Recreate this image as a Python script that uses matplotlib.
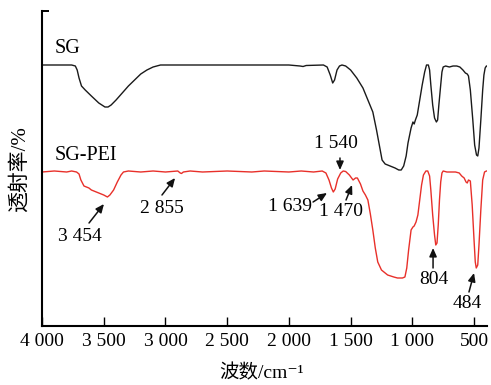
import matplotlib
matplotlib.use("Agg")
import matplotlib.pyplot as plt
import numpy as np

# ---- data (wavenumber cm^-1, relative transmittance, arbitrary offset units) ----
sg_wn = [4000, 3760, 3730, 3715, 3700, 3680, 3650, 3600, 3540, 3490, 3465, 3440, 3400,
         3350, 3300, 3250, 3200, 3150, 3100, 3040, 2500, 2000, 1910, 1885, 1860, 1720,
         1690, 1665, 1645, 1630, 1610, 1590, 1570, 1540, 1500, 1450, 1400, 1360, 1320,
         1290, 1260, 1245, 1220, 1180, 1140, 1110, 1090, 1070, 1050, 1035, 1010, 995,
         985, 975, 960, 940, 920, 900, 885, 870, 860, 850, 835, 820, 805, 795, 785, 770,
         760, 750, 730, 700, 670, 640, 615, 590, 570, 555, 545, 530, 510, 495, 480, 470,
         460, 445, 430, 420, 410, 400, 395]
sg_T = [261, 261, 260, 256, 248, 240, 236, 230, 223, 219, 219, 221, 226,
        233, 240, 246, 252, 256, 259, 261, 261, 261, 260, 259.5, 260.5, 261,
        259, 251, 243, 246, 256, 260, 261, 260, 256, 248, 238, 226, 214,
        196, 176, 166, 162, 160, 158, 156, 156, 160, 170, 183, 198, 204,
        202, 206, 211, 226, 241, 254, 261, 261, 256, 241, 221, 208, 204, 206, 221, 241,
        254, 259, 260, 259, 260, 260, 259, 256, 253, 252, 250, 236, 206, 181, 171, 170,
        178, 206, 236, 251, 258, 260, 260]

pei_wn = [4000, 3900, 3800, 3760, 3720, 3700, 3685, 3660, 3640, 3620, 3600, 3580, 3560,
          3540, 3520, 3500, 3470, 3450, 3420, 3390, 3360, 3340, 3300, 3200, 3100, 3000,
          2900, 2880, 2870, 2855, 2800, 2700, 2500, 2300, 2200, 2000, 1900, 1800, 1730,
          1700, 1675, 1655, 1640, 1625, 1605, 1580, 1560, 1540, 1510, 1480, 1460, 1445,
          1420, 1400, 1380, 1360, 1340, 1320, 1300, 1280, 1250, 1230, 1200, 1150, 1120,
          1080, 1060, 1045, 1030, 1010, 995, 985, 970, 955, 940, 925, 910, 890, 875, 860,
          850, 835, 820, 810, 800, 790, 780, 770, 760, 750, 720, 690, 650, 620, 600, 580,
          565, 555, 545, 530, 515, 500, 490, 482, 470, 460, 445, 430, 415, 400, 395]
pei_T = [154, 155, 154, 155, 154, 152, 146, 140, 139, 138, 136, 135, 134,
         133, 132, 131, 129, 131, 136, 144, 151, 154, 155, 154, 155, 154,
         155, 153, 152.5, 154, 155, 154, 155, 154, 155, 154, 155, 154, 155,
         153, 146, 138, 134, 137, 147, 153, 155, 154.5, 151, 146, 148, 148,
         142, 135, 131, 126, 112, 96, 78, 64, 56, 54, 51, 49, 48,
         48, 49, 58, 76, 96, 99, 100, 104, 111, 126, 141, 151, 155, 155, 150,
         136, 111, 91, 81, 83, 101, 126, 144, 153, 155, 154, 154, 154, 153, 150, 148,
         144, 143, 146, 145, 121, 86, 64, 58, 61, 81, 116, 146, 154, 155, 155]

tick_vals = [4000, 3500, 3000, 2500, 2000, 1500, 1000, 500]
tick_labels = ["4 000", "3 500", "3 000", "2 500", "2 000", "1 500", "1 000", "500"]

peak_labels = ["3 454", "2 855", "1 639", "1 470", "1 540", "804", "484"]

serif = ["Liberation Serif", "Noto Sans CJK SC", "DejaVu Serif"]
plt.rcParams["font.family"] = serif

fig = plt.figure(figsize=(4.91, 3.85), dpi=100)
ax = fig.add_axes([42/491, 1-326/385, (487-42)/491, (326-11)/385])

ax.plot(sg_wn, sg_T, color="#1a1a1a", lw=1.0)
ax.plot(pei_wn, pei_T, color="#e8302a", lw=1.0)

ax.set_xlim(4000, 395)
ax.set_ylim(0, 315)
ax.set_xticks(tick_vals)
ax.set_xticklabels(tick_labels, fontsize=14)
ax.set_yticks([315])
ax.set_yticklabels([])
ax.tick_params(axis="x", direction="in", length=6.5, width=1.0, pad=5)
ax.tick_params(axis="y", direction="in", length=5, width=1.4)
for s in ["top", "right"]:
    ax.spines[s].set_visible(False)
for s in ["left", "bottom"]:
    ax.spines[s].set_linewidth(1.5)

ax.text(3895, 277, "SG", fontsize=14.5, va="center", ha="left")
ax.text(3895, 170, "SG-PEI", fontsize=14.5, va="center", ha="left")

# annotations: (text pos, arrow tail, arrow head)
text_pos = [(3692, 89), (3028, 117), (1991, 119), (1578, 114), (1618, 182), (824, 46), (557, 23)]
tails = [(3619, 103), (3028, 131), (1804, 124), (1537, 126), (1586, 168), (832, 58), (541, 34)]
heads = [(3498, 122), (2922, 148), (1691, 133), (1488, 141), (1586, 156), (832, 78), (500, 53)]
for lab, tp, tl, hd in zip(peak_labels, text_pos, tails, heads):
    ax.text(tp[0], tp[1], lab, fontsize=14, ha="center", va="center")
    ax.annotate("", xy=hd, xytext=tl,
                arrowprops=dict(arrowstyle="-|>,head_length=0.5,head_width=0.22",
                                color="#111111", lw=1.1, shrinkA=0, shrinkB=0))

fig.text(20/491, 1-169/385, "透射率/%", rotation=90, fontsize=15,
         ha="center", va="center")
fig.text(262/491, 1-373/385, "波数/cm⁻¹", fontsize=14, ha="center", va="center")

fig.savefig("out.png", dpi=100)
